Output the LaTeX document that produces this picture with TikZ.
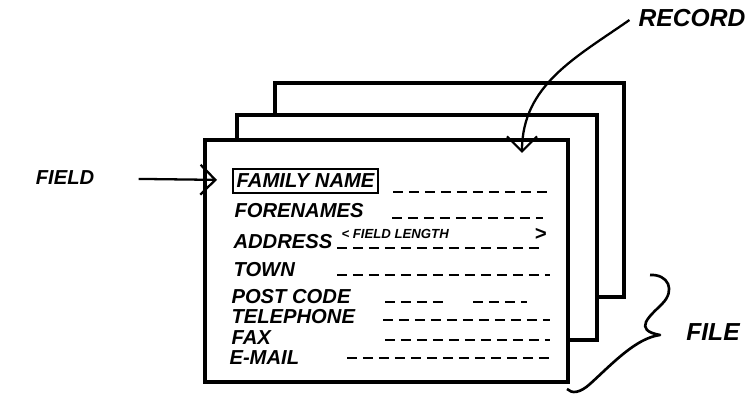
\documentclass[tikz,border=0pt]{standalone}
\usepackage{fontspec}
\setmainfont{Liberation Sans}
\usetikzlibrary{arrows.meta}

\begin{document}
\begin{tikzpicture}[
    x = 0.02cm, y = 0.02cm,
    > = {Straight Barb[length=3mm, width=6mm]}, semithick,
    card/.style={rectangle, draw, fill=white, line width=1.9pt, inner sep=0pt},
    entry/.style={anchor=west, inner sep=0pt, font=\bfseries\itshape\fontsize{11.5}{11.5}\selectfont},
    blank/.style={line width=1.6pt, dash pattern=on 0.2cm off 0.12cm},
    tag/.style={font=\bfseries\itshape\fontsize{14}{14}\selectfont}
]
\useasboundingbox (0,0) rectangle (752,402);

% 1. CARDS
\node[card, minimum width=6.98cm, minimum height=4.28cm] (back) at (449.5,212) {};
\node[card, minimum width=7.2cm, minimum height=4.5cm] (middle) at (417,174.5) {};
\node[card, line width=2.4pt, minimum width=7.26cm, minimum height=4.84cm] (front) at (386.5,141) {};

% 2. FIELDS
\node[entry, draw, line width=1.4pt, inner sep=2pt, minimum height=0.48cm] (famname) at (232,221) {FAMILY NAME};
\node[entry] (forenames) at (234,191) {FORENAMES};
\node[entry] (address) at (233,160) {ADDRESS};
\node[entry] (town) at (233,132) {TOWN};
\node[entry] (postcode) at (231,105) {POST CODE};
\node[entry] (telephone) at (231,85) {TELEPHONE};
\node[entry] (fax) at (231,64) {FAX};
\node[entry] (email) at (229,44) {E-MAIL};

\node[entry, font=\bfseries\itshape\fontsize{7.5}{7.5}\selectfont] (fieldlen) at (341,168) {< FIELD LENGTH};
\node[entry] (lenend) at (534,168) {>};

% blanks to fill in
\draw[blank] (393,210) -- (550,210);
\draw[blank] (392,184) -- (543,184);
\draw[blank] (337,154) -- (543,154);
\draw[blank] (337,127) -- (550,127);
\draw[blank] (385,100) -- (447,100);
\draw[blank] (473,100) -- (527,100);
\draw[blank] (383,82) -- (550,82);
\draw[blank] (385,62) -- (550,62);
\draw[blank] (347,44) -- (550,44);

% 3. LABELS
\node[tag, font=\bfseries\itshape\fontsize{11.5}{11.5}\selectfont] (fieldlbl) at (65,224) {FIELD};
\node[tag] (record) at (692,384) {RECORD};
\node[tag] (file) at (713,70) {FILE};

\draw[->, line width=1.3pt, shorten <=0.76cm, shorten >=0.3cm] (fieldlbl) -- (famname);

\coordinate (recpt) at (522,249);
\draw[->, line width=1.3pt, shorten <=2pt] (record.west) to[out=215, in=90] (recpt);

% brace round the cards
\coordinate (filetip) at (660,67);
\draw[line width=1.5pt, line join=round]
    (650,127) .. controls (668,128) and (676,112) .. (662,98)
    .. controls (650,86) and (632,72) .. (filetip)
    .. controls (636,64) and (612,38) .. (590,18)
    .. controls (580,9) and (572,8) .. (567,13);

\end{tikzpicture}
\end{document}
